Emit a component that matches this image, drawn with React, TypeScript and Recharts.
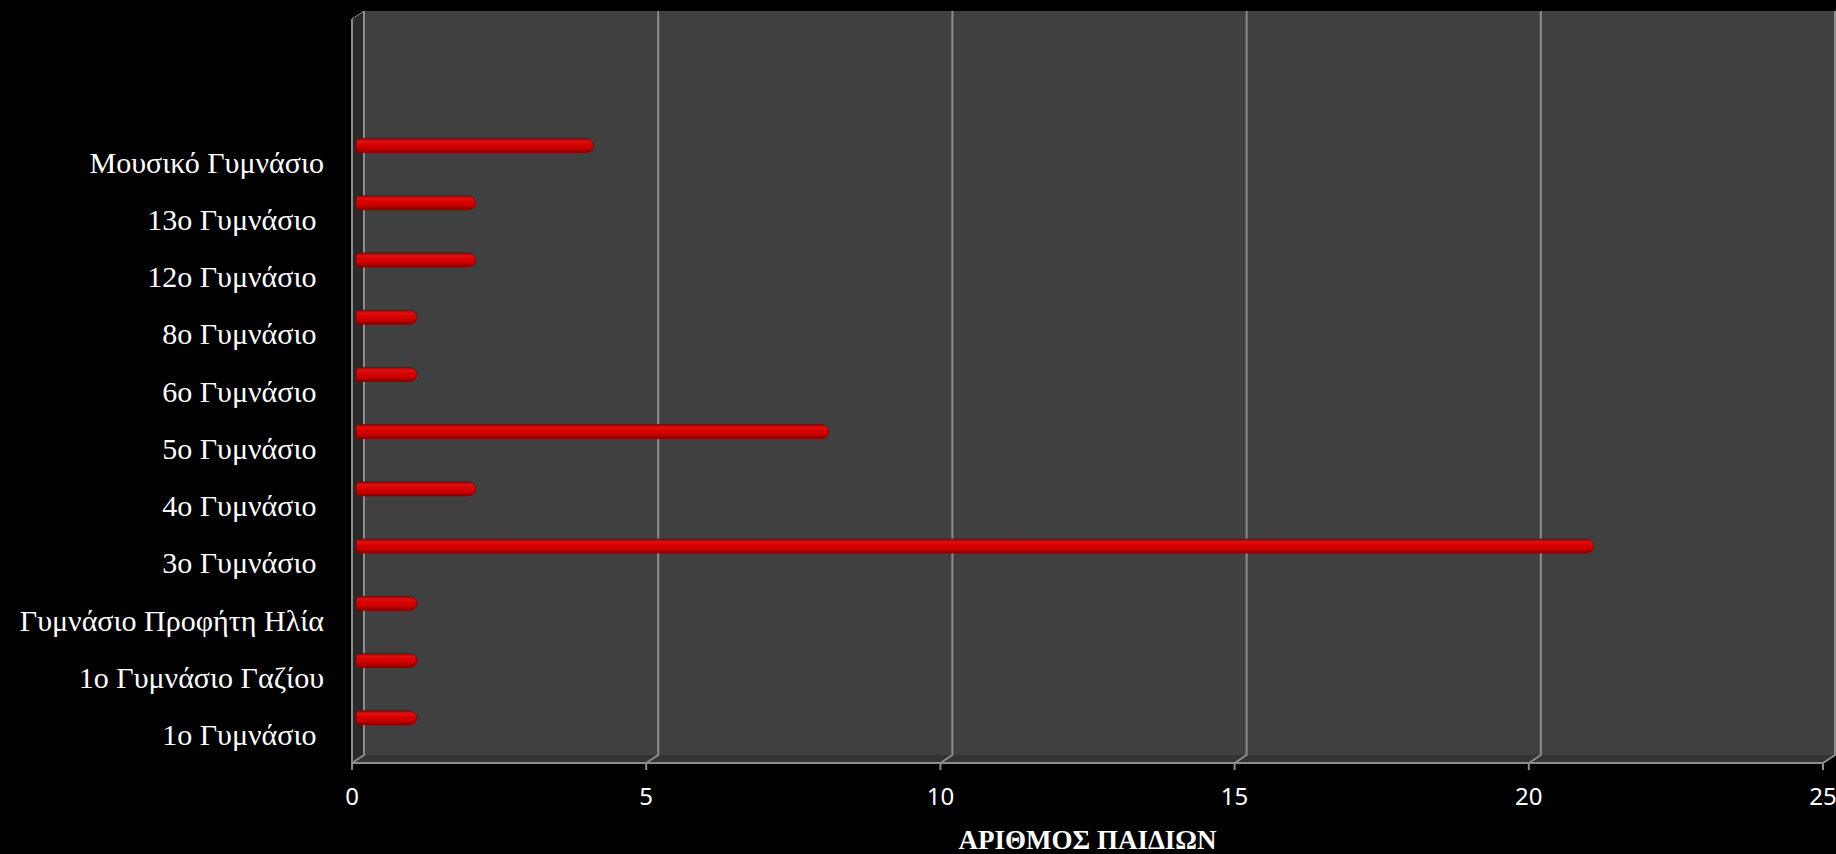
import React from 'react';
import { BarChart, Bar, XAxis, YAxis, CartesianGrid, ReferenceArea } from 'recharts';

// categories top to bottom (two empty slots at the top, as in the original)
const schools = [
  '',
  ' ',
  'Μουσικό Γυμνάσιο',
  '13ο Γυμνάσιο ',
  '12ο Γυμνάσιο ',
  '8ο Γυμνάσιο ',
  '6ο Γυμνάσιο ',
  '5ο Γυμνάσιο ',
  '4ο Γυμνάσιο ',
  '3ο Γυμνάσιο ',
  'Γυμνάσιο Προφήτη Ηλία',
  '1ο Γυμνάσιο Γαζίου',
  '1ο Γυμνάσιο ',
];
const childCounts = [null, null, 4, 2, 2, 1, 1, 8, 2, 21, 1, 1, 1];
const xTicks = [0, 5, 10, 15, 20, 25];
const axisTitle = 'ΑΡΙΘΜΟΣ ΠΑΙΔΙΩΝ';

const data = schools.map((name, i) => ({ name, value: childCounts[i] }));

// 3d depth of the plot box
const DX = 12;
const DY = 8;
const LIFT = 17;
const GRID = '#8c8c8c';

const Walls = (p: any) => {
  const { x, y, width, height } = p;
  const b = y + height;
  return (
    <g>
      <polygon points={`${x},${y} ${x + DX},${y - DY} ${x + DX},${b - DY} ${x},${b}`} fill="#2a2a2a" />
      <rect x={x + DX} y={y - DY} width={width} height={height} fill="#404040" />
      <polygon points={`${x},${b} ${x + DX},${b - DY} ${x + width + DX},${b - DY} ${x + width},${b}`} fill="#333333" />
      <line x1={x} y1={y} x2={x} y2={b} stroke={GRID} strokeWidth={2} />
      <line x1={x} y1={y} x2={x + DX} y2={y - DY} stroke={GRID} strokeWidth={1} />
    </g>
  );
};

const gridLine = (p: any) => (
  <polyline
    key={`g-${p.index}`}
    points={`${p.x1 + DX},${p.y1 - DY} ${p.x1 + DX},${p.y2 - DY} ${p.x2},${p.y2}`}
    fill="none"
    stroke={GRID}
    strokeWidth={2}
  />
);

const Tube = (p: any) => {
  const { x, y, width, height } = p;
  if (!width || width <= 0) return null;
  const cy = y + height / 2 - LIFT;
  const r = height / 2;
  const x0 = x + 4;
  const x1 = x + width + 6;
  const d = `M${x0 + 2},${cy - r} L${x1 - r},${cy - r} A${r},${r} 0 0 1 ${x1 - r},${cy + r} L${x0 + 2},${cy + r} Q${x0},${cy + r} ${x0},${cy} Q${x0},${cy - r} ${x0 + 2},${cy - r} Z`;
  return <path d={d} fill="url(#tube)" stroke="#8a0000" strokeWidth={0.8} />;
};

const SchoolTick = (p: any) => (
  <text
    x={p.x}
    y={p.y}
    dy="0.355em"
    textAnchor="end"
    fill="#ffffff"
    fontSize={30}
    fontFamily="Liberation Serif"
    style={{ whiteSpace: 'pre' }}
  >
    {p.payload.value}
  </text>
);

export default function App() {
  return (
    <div style={{ position: 'absolute', left: 0, top: 0, width: 1836, height: 854, background: '#000' }}>
      <BarChart
        width={1836}
        height={854}
        data={data}
        layout="vertical"
        margin={{ top: 19, right: 13, left: 0, bottom: 0 }}
        barSize={14}
      >
        <defs>
          <linearGradient id="tube" x1="0" y1="0" x2="0" y2="1">
            <stop offset="0%" stopColor="#a00000" />
            <stop offset="20%" stopColor="#e01010" />
            <stop offset="45%" stopColor="#d80000" />
            <stop offset="75%" stopColor="#c00000" />
            <stop offset="100%" stopColor="#780000" />
          </linearGradient>
        </defs>
        <ReferenceArea x1={0} x2={25} shape={Walls} ifOverflow="visible" zIndex={-200} />
        <CartesianGrid horizontal={false} vertical={gridLine} />
        <XAxis
          type="number"
          domain={[0, 25]}
          ticks={xTicks}
          axisLine={{ stroke: GRID, strokeWidth: 2 }}
          tickLine={{ stroke: GRID, strokeWidth: 2 }}
          tickSize={7}
          tickMargin={18}
          tick={{ fill: '#ffffff', fontSize: 24, fontFamily: 'Noto Sans' }}
          height={91}
          label={{
            value: axisTitle,
            position: 'insideBottom',
            offset: 5,
            fill: '#ffffff',
            fontSize: 27,
            fontWeight: 'bold',
            fontFamily: 'Liberation Serif',
          }}
        />
        <YAxis
          type="category"
          dataKey="name"
          width={352}
          axisLine={false}
          tickLine={false}
          tickSize={0}
          tickMargin={28}
          interval={0}
          tick={SchoolTick}
        />
        <Bar dataKey="value" shape={Tube} isAnimationActive={false} />
      </BarChart>
    </div>
  );
}
